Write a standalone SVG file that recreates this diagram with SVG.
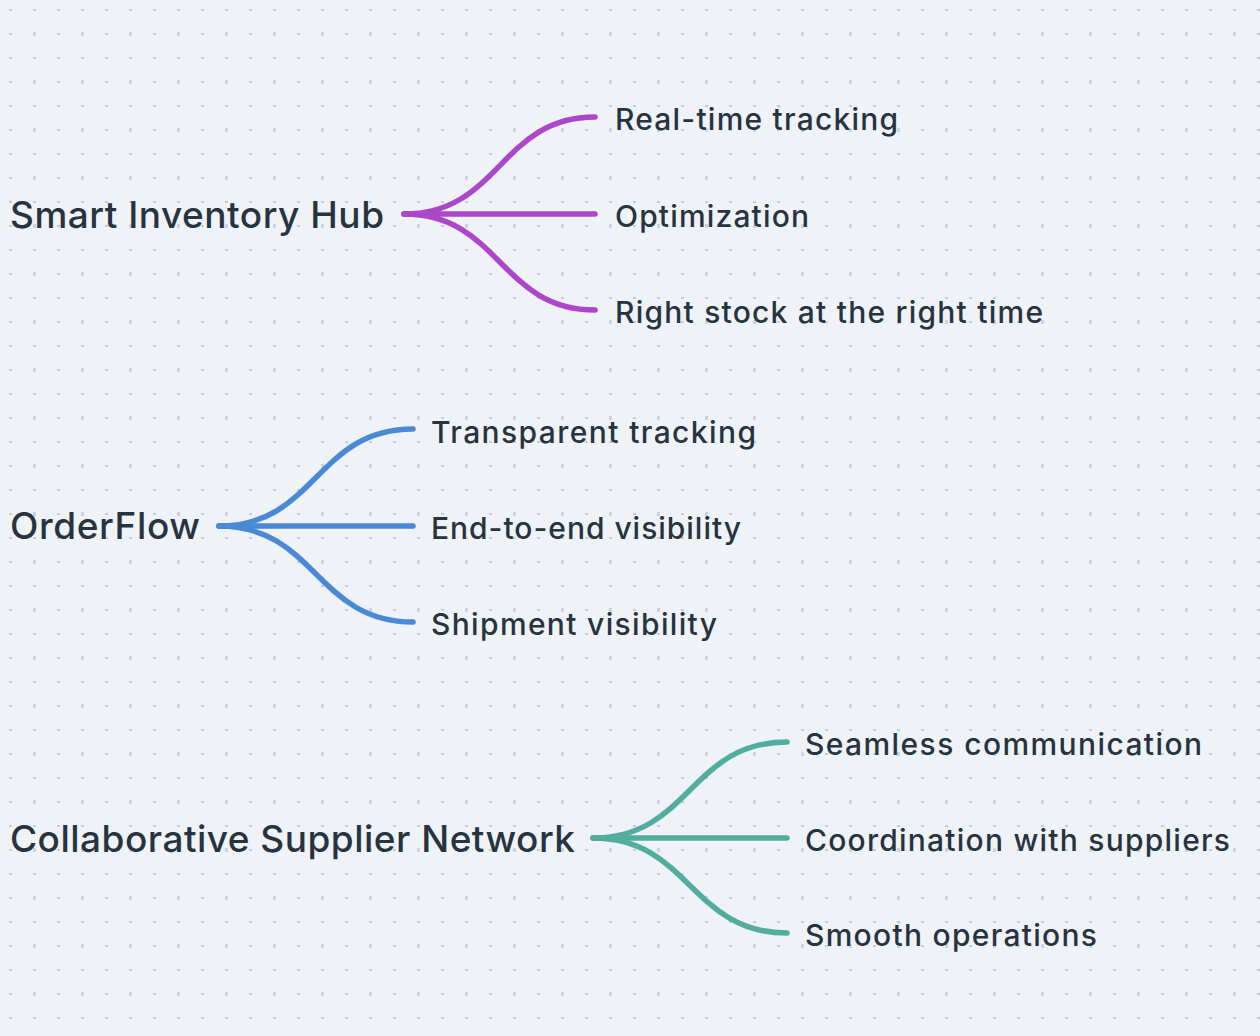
<svg xmlns="http://www.w3.org/2000/svg" width="1260" height="1036" viewBox="0 0 1260 1036">
  <defs>
    <pattern id="dotsSmall" x="0" y="0" width="24" height="24" patternUnits="userSpaceOnUse">
      <rect x="9" y="9" width="3" height="2" fill="#c6ccd5"/>
    </pattern>
    <pattern id="dotsLarge" x="0" y="0" width="48" height="48" patternUnits="userSpaceOnUse">
      <rect x="33" y="32" width="3" height="4" fill="#cbd3e0"/>
    </pattern>
  </defs>
  <style>
    .root { font-family: Inter, "Open Sans", "Liberation Sans", sans-serif; font-size: 37px; font-weight: 500; fill: #27333f; }
    .leaf { font-family: Inter, "Open Sans", "Liberation Sans", sans-serif; font-size: 30px; font-weight: 500; fill: #27333f; }
    .edge { fill: none; stroke-width: 5.5; stroke-linecap: round; stroke-linejoin: round; }
    .purple { stroke: #ab47c8; }
    .blue { stroke: #4a89d6; }
    .teal { stroke: #52ad9e; }
  </style>
  <rect x="0" y="0" width="1260" height="1036" fill="#eff3f7"/>
  <rect x="0" y="0" width="1260" height="1036" fill="url(#dotsSmall)"/>
  <rect x="0" y="0" width="1260" height="1036" fill="url(#dotsLarge)"/>

  <g id="connectors">
    <path class="edge purple" d="M404,214 C500,214 500,117 595,117"/>
    <path class="edge purple" d="M404,214 L595,214"/>
    <path class="edge purple" d="M404,214 C500,214 500,310 595,310"/>

    <path class="edge blue" d="M219,526 C316,526 316,429 413,429"/>
    <path class="edge blue" d="M219,526 L413,526"/>
    <path class="edge blue" d="M219,526 C316,526 316,622 413,622"/>

    <path class="edge teal" d="M593,838 C690,838 690,742 787,742"/>
    <path class="edge teal" d="M593,838 L787,838"/>
    <path class="edge teal" d="M593,838 C690,838 690,933 787,933"/>
  </g>

  <g id="node-smart-inventory-hub"><text class="root" x="10" y="228" textLength="374" lengthAdjust="spacing">Smart Inventory Hub</text></g>
  <g id="node-real-time-tracking"><text class="leaf" x="615" y="130" textLength="283" lengthAdjust="spacing">Real-time tracking</text></g>
  <g id="node-optimization"><text class="leaf" x="615" y="227" textLength="194" lengthAdjust="spacing">Optimization</text></g>
  <g id="node-right-stock"><text class="leaf" x="615" y="323" textLength="428" lengthAdjust="spacing">Right stock at the right time</text></g>

  <g id="node-orderflow"><text class="root" x="10" y="539" textLength="190" lengthAdjust="spacing">OrderFlow</text></g>
  <g id="node-transparent-tracking"><text class="leaf" x="431" y="443" textLength="325" lengthAdjust="spacing">Transparent tracking</text></g>
  <g id="node-end-to-end"><text class="leaf" x="431" y="539" textLength="310" lengthAdjust="spacing">End-to-end visibility</text></g>
  <g id="node-shipment-visibility"><text class="leaf" x="431" y="635" textLength="286" lengthAdjust="spacing">Shipment visibility</text></g>

  <g id="node-collaborative-supplier-network"><text class="root" x="10" y="852" textLength="565" lengthAdjust="spacing">Collaborative Supplier Network</text></g>
  <g id="node-seamless-communication"><text class="leaf" x="805" y="755" textLength="397" lengthAdjust="spacing">Seamless communication</text></g>
  <g id="node-coordination"><text class="leaf" x="805" y="851" textLength="425" lengthAdjust="spacing">Coordination with suppliers</text></g>
  <g id="node-smooth-operations"><text class="leaf" x="805" y="946" textLength="292" lengthAdjust="spacing">Smooth operations</text></g>
</svg>
